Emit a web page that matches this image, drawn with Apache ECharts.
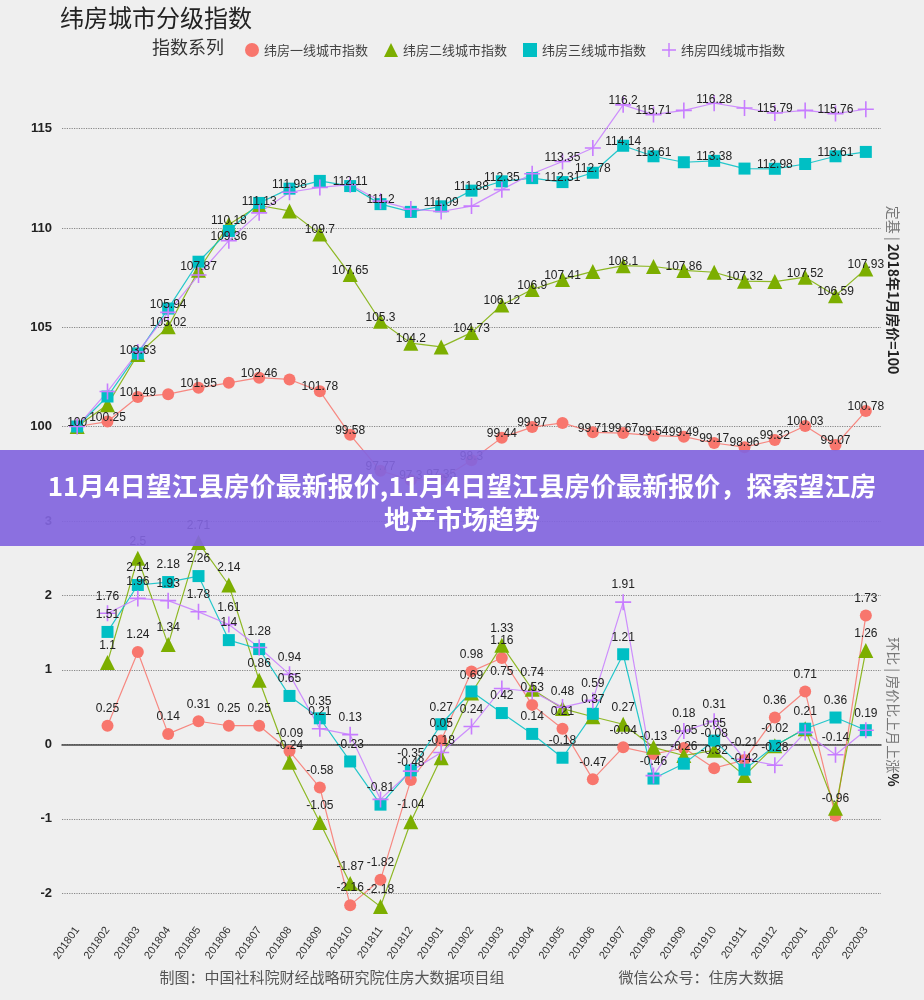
<!DOCTYPE html>
<html><head><meta charset="utf-8">
<script src="https://cdn.jsdelivr.net/npm/echarts@6/dist/echarts.min.js"></script>
<style>
html,body{margin:0;padding:0;background:#efefef;}
#wrap{position:relative;width:924px;height:1000px;}
#chart{width:924px;height:1000px;}
#banner{position:absolute;left:0;top:450px;width:924px;height:96px;box-sizing:border-box;padding-top:6px;background:rgba(130,101,222,0.92);color:#fff;font-family:"Noto Sans CJK SC";font-weight:bold;font-size:26px;text-align:center;display:flex;flex-direction:column;align-items:center;justify-content:center;line-height:33px;}
</style></head>
<body><div id="wrap"><div id="chart"></div><div id="banner"><div>11月4日望江县房价最新报价,11月4日望江县房价最新报价，探索望江房</div><div>地产市场趋势</div></div></div>
<script>
const months = ['201801','201802','201803','201804','201805','201806','201807','201808','201809','201810','201811','201812',
  '201901','201902','201903','201904','201905','201906','201907','201908','201909','201910','201911','201912',
  '202001','202002','202003'];
const seriesNames = ['纬房一线城市指数','纬房二线城市指数','纬房三线城市指数','纬房四线城市指数'];
// 定基指数 (2018年1月=100)
const tier1Index = [100,100.25,101.49,101.63,101.95,102.2,102.46,102.37,101.78,99.58,97.77,97.3,97.35,98.3,99.44,99.97,100.18,99.71,99.67,99.54,99.49,99.17,98.96,99.32,100.03,99.07,100.78];
const tier2Index = [100,101.1,103.63,105.02,107.87,110.18,111.13,110.86,109.7,107.65,105.3,104.2,104.01,104.73,106.12,106.9,107.41,107.81,108.1,108.06,107.86,107.77,107.32,107.3,107.52,106.59,107.93];
const tier3Index = [100,101.51,103.68,105.94,108.3,109.85,111.26,111.98,112.37,112.11,111.2,110.81,111.09,111.88,112.35,112.51,112.31,112.78,114.14,113.61,113.31,113.38,112.99,112.98,113.22,113.61,113.83];
const tier4Index = [100,101.76,103.75,105.75,107.63,109.36,110.76,111.8,112.04,112.18,111.35,110.95,110.83,111.1,111.93,112.73,113.35,114.03,116.2,115.71,115.92,116.28,116.04,115.79,115.92,115.76,115.98];
// 环比 (%)
const tier1Mom = [null,0.25,1.24,0.14,0.31,0.25,0.25,-0.09,-0.58,-2.16,-1.82,-0.48,0.05,0.98,1.16,0.53,0.21,-0.47,-0.04,-0.13,-0.05,-0.32,-0.21,0.36,0.71,-0.96,1.73];
const tier2Mom = [null,1.1,2.5,1.34,2.71,2.14,0.86,-0.24,-1.05,-1.87,-2.18,-1.04,-0.18,0.69,1.33,0.74,0.48,0.37,0.27,-0.04,-0.15,-0.08,-0.42,-0.02,0.21,-0.86,1.26];
const tier3Mom = [null,1.51,2.14,2.18,2.26,1.4,1.28,0.65,0.35,-0.23,-0.81,-0.35,0.27,0.71,0.42,0.14,-0.18,0.41,1.21,-0.46,-0.26,0.05,-0.34,-0.02,0.21,0.36,0.19];
const tier4Mom = [null,1.76,1.96,1.93,1.78,1.61,1.3,0.94,0.21,0.13,-0.74,-0.36,-0.11,0.24,0.75,0.71,0.5,0.59,1.91,-0.42,0.18,0.31,-0.2,-0.28,0.16,-0.14,0.19];

const colors = ['#F8766D','#7CAE00','#00BFC4','#C77CFF'];
const plusPath = 'path://M4.5,0H5.5V4.5H10V5.5H5.5V10H4.5V5.5H0V4.5H4.5Z';
const symbols = ['circle','triangle','rect',plusPath];
const symbolSizes = [12,15,12,16];
const indexData = [tier1Index,tier2Index,tier3Index,tier4Index];
const momData = [tier1Mom,tier2Mom,tier3Mom,tier4Mom];
const lblFont = '"Liberation Sans", Arial, sans-serif';
const cjk = 'Noto Sans CJK SC';
const OFF_TOP = -4, OFF_BOT = -17;

function mk(i, grid, data, offY){
  return {
    name: seriesNames[i], type:'line', xAxisIndex:grid, yAxisIndex:grid,
    data: data.slice(), symbol: symbols[i], symbolSize: symbolSizes[i], z: 2,
    itemStyle:{color:colors[i]},
    lineStyle:{color:colors[i], width:1.2, opacity:0.85},
    label:{show:true, position:'inside', offset:[0,offY], fontSize:12, color:'#222', fontFamily:lblFont},
    emphasis:{disabled:true}, animation:false
  };
}
const series = [];
for (let i=0;i<4;i++) series.push(mk(i,0,indexData[i],OFF_TOP));
for (let i=0;i<4;i++) series.push(mk(i,1,momData[i],OFF_BOT));

const chart = echarts.init(document.getElementById('chart'));
chart.setOption({
  backgroundColor:'#efefef',
  animation:false,
  grid:[{left:62,right:43,top:85,height:413},{left:62,right:43,top:521,height:402}],
  legend:{left:240, top:38, itemGap:16, itemWidth:14, itemHeight:14,
    textStyle:{fontSize:13,color:'#444',fontFamily:cjk},
    data: seriesNames.map((n,i)=>({name:n, icon:symbols[i]})), selectedMode:false},
  xAxis:[
    {type:'category', gridIndex:0, data:months, show:false, boundaryGap:true},
    {type:'category', gridIndex:1, data:months, boundaryGap:true,
     axisLine:{lineStyle:{color:'#444',width:1.5}},
     axisTick:{alignWithLabel:true,length:4,lineStyle:{color:'#444'}},
     axisLabel:{rotate:55, interval:0, fontSize:11, color:'#333', margin:5, fontFamily:lblFont}}
  ],
  yAxis:[
    {type:'value', gridIndex:0, min:96.4, max:117.2, splitNumber:4,
     axisLine:{show:false}, axisTick:{show:false},
     axisLabel:{fontSize:13,fontWeight:'bold',color:'#222',showMinLabel:false,showMaxLabel:false,fontFamily:lblFont,margin:10},
     splitLine:{lineStyle:{type:'dotted',color:'#888',width:1.2},showMinLine:false,showMaxLine:false}},
    {type:'value', gridIndex:1, min:-2.4, max:3, splitNumber:5,
     axisLine:{show:false}, axisTick:{show:false},
     axisLabel:{fontSize:13,fontWeight:'bold',color:'#222',showMinLabel:false,fontFamily:lblFont,margin:10},
     splitLine:{lineStyle:{type:'dotted',color:'#888',width:1.2},showMinLine:false}}
  ],
  graphic:[
    {type:'text', left:60, top:6, style:{text:'纬房城市分级指数', fontSize:24, fill:'#222', fontFamily:cjk}},
    {type:'text', left:152, top:38, style:{text:'指数系列', fontSize:18, fill:'#333', fontFamily:cjk}},
    {type:'text', x:893, y:290, rotation:-Math.PI/2, style:{
      text:'{a|定基 | }{b|2018年1月房价=100}', align:'center', verticalAlign:'middle',
      rich:{a:{fontSize:14,fill:'#777',fontFamily:cjk}, b:{fontSize:14,fill:'#222',fontWeight:'bold',fontFamily:cjk}}}},
    {type:'text', x:893, y:712, rotation:-Math.PI/2, style:{
      text:'{a|环比 | 房价比上月上涨}{b|%}', align:'center', verticalAlign:'middle',
      rich:{a:{fontSize:14,fill:'#777',fontFamily:cjk}, b:{fontSize:14,fill:'#222',fontWeight:'bold',fontFamily:cjk}}}},
    {type:'text', x:332, y:977, style:{text:'制图：中国社科院财经战略研究院住房大数据项目组', fontSize:15, fill:'#555', fontFamily:cjk, align:'center', verticalAlign:'middle'}},
    {type:'text', x:701, y:977, style:{text:'微信公众号：住房大数据', fontSize:15, fill:'#555', fontFamily:cjk, align:'center', verticalAlign:'middle'}}
  ],
  series: series
});

// Mimic ggplot check_overlap: labels drawn in series order, skipped if they overlap an earlier one
const ctx = document.createElement('canvas').getContext('2d');
ctx.font = '12px "Liberation Sans"';
function chooseLabels(panel, datasets, offY){
  const boxes = [];
  return datasets.map(arr => arr.map((v,i) => {
    if (v == null) return null;
    const p = chart.convertToPixel({xAxisIndex:panel, yAxisIndex:panel}, [i, v]);
    const w = ctx.measureText(String(v)).width, h = 9;
    const b = {x0:p[0]-w/2, x1:p[0]+w/2, y0:p[1]+offY-h/2, y1:p[1]+offY+h/2};
    const hit = boxes.some(o => b.x0 < o.x1 && b.x1 > o.x0 && b.y0 < o.y1 && b.y1 > o.y0);
    if (!hit) boxes.push(b);
    return {value: v, label: {show: !hit}};
  }));
}
const topItems = chooseLabels(0, indexData, OFF_TOP);
const botItems = chooseLabels(1, momData, OFF_BOT);
chart.setOption({series: topItems.concat(botItems).map(d => ({data: d}))});
</script>
</body></html>
